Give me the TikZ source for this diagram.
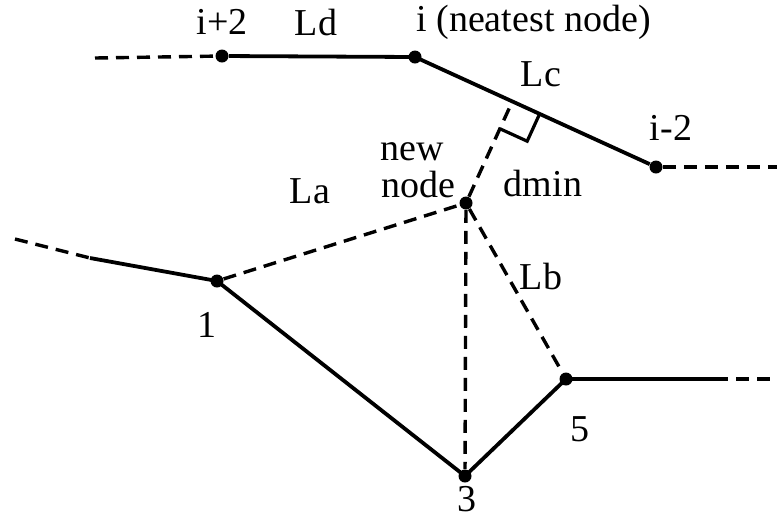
\documentclass[tikz,border=0pt]{standalone}
\usepackage{fontspec}
\setmainfont{Liberation Serif}
\usetikzlibrary{calc}
\tikzset{
  vertex/.style={circle, fill=black, inner sep=0pt, minimum size=6.5pt},
  solidline/.style={line width=1.9pt, draw=black, line cap=butt, line join=round},
  dashline/.style={line width=1.7pt, draw=black, dash pattern=on 6.5pt off 4pt},
  anglemark/.style={line width=1.6pt, draw=black, line join=miter},
  lbl/.style={font=\fontsize{19}{21}\selectfont, inner sep=0pt},
}
\begin{document}
\begin{tikzpicture}[x=0.5pt, y=-0.5pt]
\useasboundingbox (0,0) rectangle (777,521);
% points of the old lines
\node[vertex] (ni2) at (222,56) {};
\node[vertex] (ni) at (415,57) {};
\node[vertex] (nim2) at (656,167) {};
\node[vertex] (nn) at (466,203) {};
\node[vertex] (n1) at (217,281) {};
\node[vertex] (n3) at (465,476) {};
\node[vertex] (n5) at (566,379) {};
\coordinate (topleft) at (95,58);
\coordinate (topright) at (777,167);
\coordinate (lowleft) at (15,239);
\coordinate (lowbreak) at (90,258);
\coordinate (lowbreakr) at (715,379);
\coordinate (lowright) at (777,379);
\coordinate (foot) at ($(ni.center)!(nn.center)!(nim2.center)$);
% lines
\draw[solidline] (ni2) -- (ni.center) -- (nim2);
\draw[dashline] (topleft) -- (ni2);
\draw[dashline] (nim2) -- (topright);
\draw[dashline] (lowleft) -- (lowbreak);
\draw[solidline] (lowbreak) -- (n1.center) -- (n3.center) -- (n5.center) -- (lowbreakr);
\draw[dashline] (lowbreakr) -- (lowright);
\draw[dashline] (n1) -- (nn);
\draw[dashline] (nn) -- (n3);
\draw[dashline] (nn) -- (n5);
\draw[dashline] (nn) -- (foot);
% right angle
\draw[anglemark] ($(foot)!15pt!(nim2.center)$) -- ($($(foot)!15pt!(nim2.center)$)+($(foot)!15pt!(nn.center)$)-(foot)$) -- ($(foot)!15pt!(nn.center)$);
% labels
\node[lbl] (tip2) at (222,22) {i+2};
\node[lbl] (tld) at (316,22) {Ld};
\node[lbl, anchor=west] (ti) at (416,22) {i (neatest node)};
\node[lbl] (tlc) at (541,74) {Lc};
\node[lbl] (tim2) at (671,128) {i-2};
\node[lbl] (tnew) at (412,152) {new};
\node[lbl] (tnode) at (418,184) {node};
\node[lbl] (tdmin) at (543,183) {dmin};
\node[lbl] (tla) at (310,191) {La};
\node[lbl] (tlb) at (541,276) {Lb};
\node[lbl] (t1) at (207,325) {1};
\node[lbl] (t5) at (580,429) {5};
\node[lbl] (t3) at (467,499) {3};
\end{tikzpicture}
\end{document}
